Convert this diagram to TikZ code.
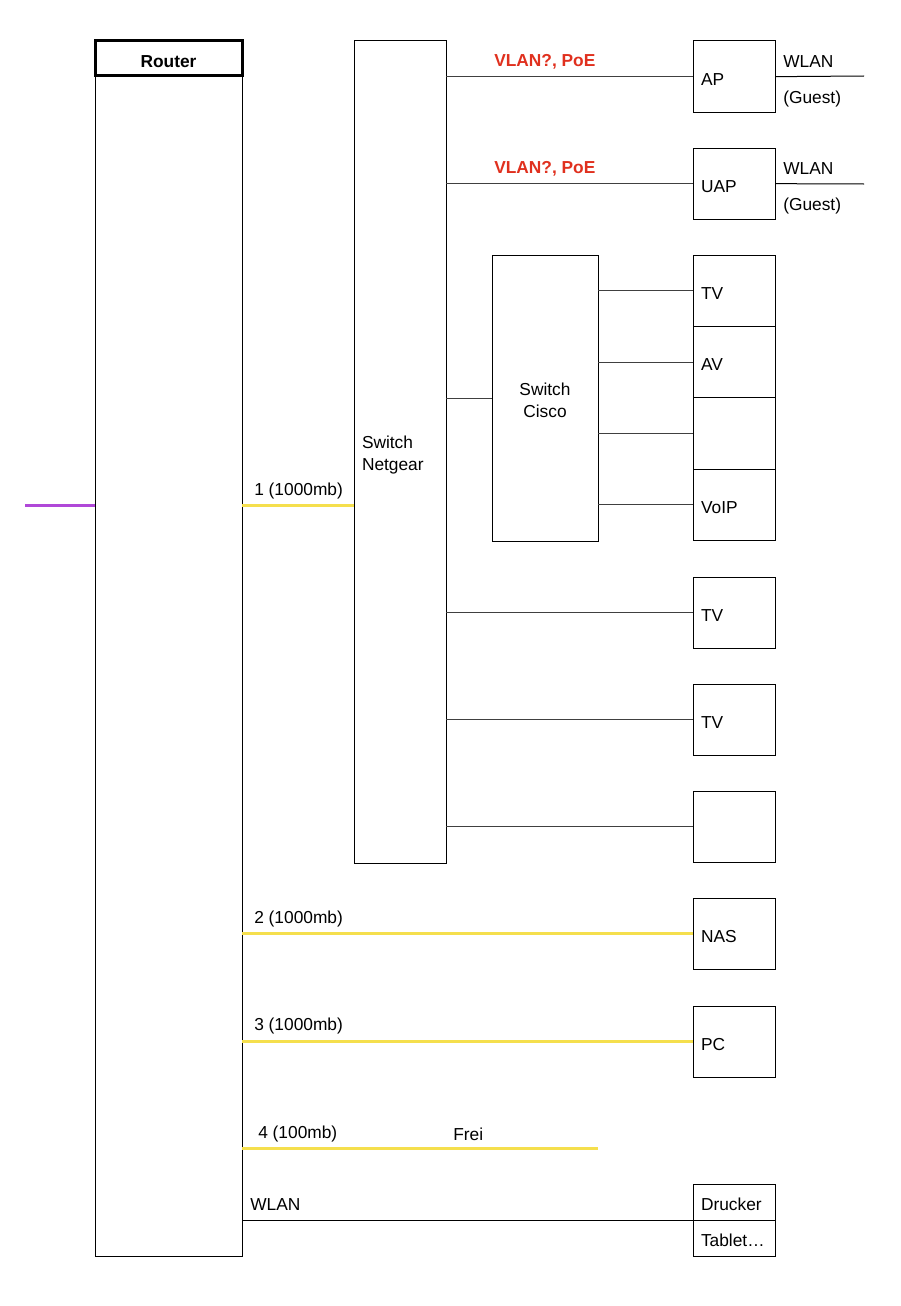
\documentclass[tikz,border=0pt]{standalone}
\usepackage{fontspec}
\setmainfont{Liberation Sans}
\usepackage{tikz}
\usetikzlibrary{positioning}

\definecolor{lanyellow}{HTML}{F5DF4D}
\definecolor{wanpurple}{HTML}{B048D8}
\definecolor{notered}{HTML}{E0301E}

\begin{document}
\begin{tikzpicture}[
        x=0.75pt, y=-0.75pt,
        font=\fontsize{13}{16.5}\selectfont,
        box/.style={draw, line width=0.75pt, outer sep=0, inner sep=0},
        dev/.style={box, anchor=north west, minimum width=61.5pt, minimum height=53.5pt,
            text width=49.5pt, inner xsep=6pt, align=left, text height=12.5pt, text depth=0pt},
        half/.style={dev, minimum height=27pt},
        wire/.style={draw, black!75, line width=0.75pt},
        port/.style={draw, lanyellow, line width=2.25pt},
        txt/.style={anchor=west, inner sep=0, yshift=-1.5pt},
        warn/.style={txt, font=\fontsize{13}{16.5}\selectfont\bfseries, text=notered}
    ]
    \useasboundingbox (0,0) rectangle (900,1306);

    % router
    \node[box, anchor=north west, minimum width=110.25pt, minimum height=911.25pt] (router) at (95,41) {};
    \node[box, line width=2.25pt, anchor=north west, minimum width=110.25pt, minimum height=26.25pt,
        text height=13.5pt, text depth=0pt,
        font=\fontsize{13}{16.5}\selectfont\bfseries] (routerhead) at (95,41) {Router};

    % switches
    \node[box, anchor=north west, minimum width=69pt, minimum height=616.5pt,
        text width=57pt, inner xsep=6pt, align=left] (netgear) at (354,41)
        {\rule{0pt}{14.5pt}Switch\\Netgear};
    \node[box, anchor=north west, minimum width=79.5pt, minimum height=214.5pt,
        align=center] (cisco) at (492,255) {\rule{0pt}{13pt}Switch\\Cisco};

    % devices
    \node[dev] (ap) at (693,41) {AP};
    \node[dev] (uap) at (693,148) {UAP};
    \node[dev] (tv1) at (693,255) {TV};
    \node[dev, below=0pt of tv1] (av) {AV};
    \node[dev, below=0pt of av] (free1) {};
    \node[dev, below=0pt of free1] (voip) {VoIP};
    \node[dev] (tv2) at (693,577) {TV};
    \node[dev] (tv3) at (693,684) {TV};
    \node[dev] (free2) at (693,791) {};
    \node[dev] (nas) at (693,898) {NAS};
    \node[dev] (pc) at (693,1006) {PC};
    \node[half] (drucker) at (693,1184) {Drucker};
    \node[half, below=0pt of drucker] (tablet) {Tablet…};

    % free ends
    \coordinate (wan) at (25,505);
    \coordinate (apair) at (864,76);
    \coordinate (uapair) at (864,184);
    \coordinate (frei) at (598,1148);

    % uplink and router ports
    \draw[wanpurple, line width=2.25pt] (wan) -- (router.west |- wan);
    \draw[port] (router.east |- wan) -- (netgear.west |- wan);
    \draw[port] (router.east |- nas.west) -- (nas.west);
    \draw[port] (router.east |- pc.west) -- (pc.west);
    \draw[port] (router.east |- frei) -- (frei);
    \draw[wire, black] (router.east |- drucker.south) -- (drucker.south west);

    % netgear ports
    \foreach \d in {ap, uap, cisco, tv2, tv3, free2}
        \draw[wire] (netgear.east |- \d.west) -- (\d.west);
    % cisco ports
    \foreach \d in {tv1, av, free1, voip}
        \draw[wire] (cisco.east |- \d.west) -- (\d.west);
    % wireless
    \draw[wire, black] (ap.east) -- (apair);
    \draw[wire, black] (uap.east) -- (uapair);

    % labels
    \node[warn] (apnote) at (494,60) {VLAN?, PoE};
    \node[warn] (uapnote) at (494,167) {VLAN?, PoE};
    \node[txt] (apwlan) at (783,60) {WLAN};
    \node[txt] (apguest) at (783,97) {(Guest)};
    \node[txt] (uapwlan) at (783,167) {WLAN};
    \node[txt] (uapguest) at (783,204) {(Guest)};
    \node[txt] (port1) at (254,489) {1 (1000mb)};
    \node[txt] (port2) at (254,917) {2 (1000mb)};
    \node[txt] (port3) at (254,1024) {3 (1000mb)};
    \node[txt] (port4) at (258,1132) {4 (100mb)};
    \node[txt] (freilabel) at (453,1132) {Frei};
    \node[txt] (wlan) at (250,1203) {WLAN};
\end{tikzpicture}
\end{document}
